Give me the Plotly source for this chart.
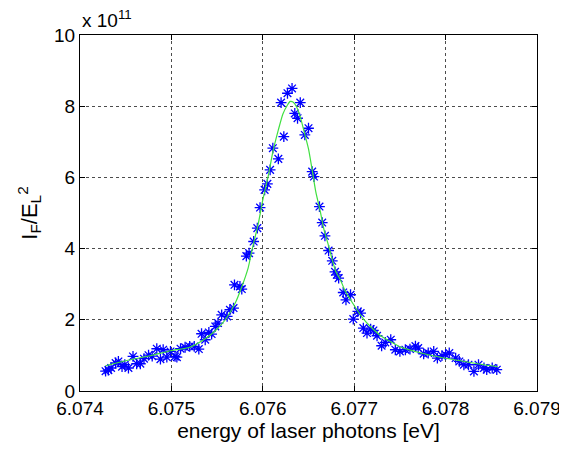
import plotly.graph_objects as go

# measured points: photon energy [eV] and I_F/E_L^2 in units of 1e11
energy = [6.07428, 6.07431, 6.07434, 6.07439, 6.07442, 6.07446, 6.07449, 6.07453, 6.07458, 6.07462,
          6.07466, 6.07470, 6.07475, 6.07479, 6.07484, 6.07488, 6.07491, 6.07495, 6.07499, 6.07504,
          6.07506, 6.07510, 6.07515, 6.07520, 6.07525, 6.07530, 6.07533, 6.07537, 6.07541, 6.07544,
          6.07548, 6.07551, 6.07555, 6.07561, 6.07564, 6.07568, 6.07569, 6.07575, 6.07577, 6.07582,
          6.07585, 6.07590, 6.07594, 6.07597, 6.07602, 6.07605, 6.07608, 6.07611, 6.07617, 6.07623,
          6.07620, 6.07627, 6.07632, 6.07635, 6.07638, 6.07641, 6.07646, 6.07650, 6.07654, 6.07656,
          6.07662, 6.07665, 6.07668, 6.07672, 6.07676, 6.07679, 6.07681, 6.07683, 6.07688, 6.07691,
          6.07696, 6.07699, 6.07704, 6.07707, 6.07710, 6.07714, 6.07718, 6.07721, 6.07725, 6.07730,
          6.07734, 6.07740, 6.07745, 6.07750, 6.07756, 6.07761, 6.07767, 6.07770, 6.07776, 6.07781,
          6.07787, 6.07791, 6.07796, 6.07800, 6.07804, 6.07811, 6.07815, 6.07820, 6.07825, 6.07831,
          6.07836, 6.07842, 6.07845, 6.07851, 6.07856]
intensity_e11 = [0.556, 0.584, 0.646, 0.786, 0.831, 0.682, 0.738, 0.646, 0.971, 0.766,
                 0.766, 0.907, 1.005, 0.977, 1.187, 0.893, 1.159, 0.949, 1.111, 0.971,
                 0.949, 1.187, 1.229, 1.252, 1.252, 1.179, 1.608, 1.440, 1.645, 1.600,
                 1.813, 1.909, 2.141, 2.094, 2.282, 2.330, 2.983, 2.936, 2.863, 3.789,
                 3.873, 4.199, 4.575, 5.153, 5.650, 5.818, 6.211, 6.820, 6.520, 7.146,
                 8.100, 8.364, 8.498, 7.797, 7.662, 8.100, 7.193, 7.381, 6.163, 6.023,
                 5.181, 4.732, 4.359, 3.946, 3.657, 3.348, 3.264, 3.171, 2.767, 2.562,
                 2.703, 2.021, 2.234, 2.189, 1.768, 1.628, 1.740, 1.701, 1.552, 1.271,
                 1.364, 1.440, 1.159, 1.111, 1.159, 1.179, 1.263, 1.207, 1.047, 1.067,
                 1.111, 0.926, 0.991, 1.019, 1.067, 0.926, 0.831, 0.738, 0.738, 0.550,
                 0.738, 0.646, 0.598, 0.646, 0.598]

# fitted curve
fit_energy = [6.07428, 6.07455, 6.07477, 6.07499, 6.07520, 6.07537, 6.07548, 6.07559, 6.07570, 6.07577,
              6.07584, 6.07589, 6.07595, 6.07600, 6.07606, 6.07611, 6.07617, 6.07622, 6.07627, 6.07630,
              6.07633, 6.07637, 6.07641, 6.07645, 6.07650, 6.07654, 6.07658, 6.07663, 6.07667, 6.07672,
              6.07676, 6.07680, 6.07685, 6.07690, 6.07696, 6.07703, 6.07710, 6.07718, 6.07729, 6.07740,
              6.07750, 6.07772, 6.07794, 6.07816, 6.07838, 6.07857]
fit_intensity_e11 = [0.710, 0.878, 0.991, 1.131, 1.230, 1.468, 1.692, 2.001, 2.478, 2.927,
                     3.461, 4.050, 4.695, 5.369, 6.043, 6.716, 7.334, 7.783, 8.035, 8.134,
                     8.120, 7.979, 7.699, 7.306, 6.800, 6.211, 5.594, 5.032, 4.527, 4.078,
                     3.685, 3.348, 3.118, 2.815, 2.562, 2.282, 2.029, 1.805, 1.552, 1.384,
                     1.243, 1.075, 0.949, 0.850, 0.752, 0.682]

x_ticks = [6.074, 6.075, 6.076, 6.077, 6.078, 6.079]
x_tick_labels = ["6.074", "6.075", "6.076", "6.077", "6.078", "6.079"]
y_ticks = [0, 2, 4, 6, 8, 10]

FONT = "Liberation Sans, Arial, sans-serif"

fig = go.Figure()
fig.add_trace(go.Scatter(
    x=energy, y=intensity_e11, mode="markers",
    marker=dict(symbol="asterisk-open", size=9, color="#0000ff",
                line=dict(color="#0000ff", width=1.3)),
    showlegend=False))
fig.add_trace(go.Scatter(
    x=fit_energy, y=fit_intensity_e11, mode="lines",
    line=dict(color="#40e040", width=1.2, shape="spline", smoothing=0.6),
    showlegend=False))

axis_common = dict(
    showline=True, linecolor="black", linewidth=1, mirror="ticks",
    ticks="inside", ticklen=5, tickcolor="black",
    showgrid=True, gridcolor="rgba(0,0,0,0.7)", griddash="dot", gridwidth=1,
    zeroline=False, tickfont=dict(family=FONT, size=19, color="black"),
    ticklabeloverflow="allow", automargin=False,
)

fig.update_xaxes(range=[6.074, 6.079], tickvals=x_ticks, ticktext=x_tick_labels,
                 title=dict(text="energy of laser photons [eV]",
                            font=dict(family=FONT, size=21, color="black"), standoff=6),
                 **axis_common)
fig.update_yaxes(range=[0, 10], tickvals=y_ticks,
                 title=dict(text="I<sub>F</sub>/E<sub>L</sub><sup>2</sup>",
                            font=dict(family=FONT, size=22, color="black"), standoff=10),
                 **axis_common)

fig.add_annotation(text="x 10<sup>11</sup>", xref="paper", yref="paper",
                   x=0.0, y=1.0, xanchor="left", yanchor="bottom", showarrow=False,
                   yshift=2, font=dict(family=FONT, size=19, color="black"))

# page body has an 8px margin, so the figure is offset by 8px and sized to the window
fig.update_layout(
    width=559, height=434,
    margin=dict(l=72, r=30, t=27, b=51),
    paper_bgcolor="white", plot_bgcolor="white",
)

fig.write_html("out.html")
